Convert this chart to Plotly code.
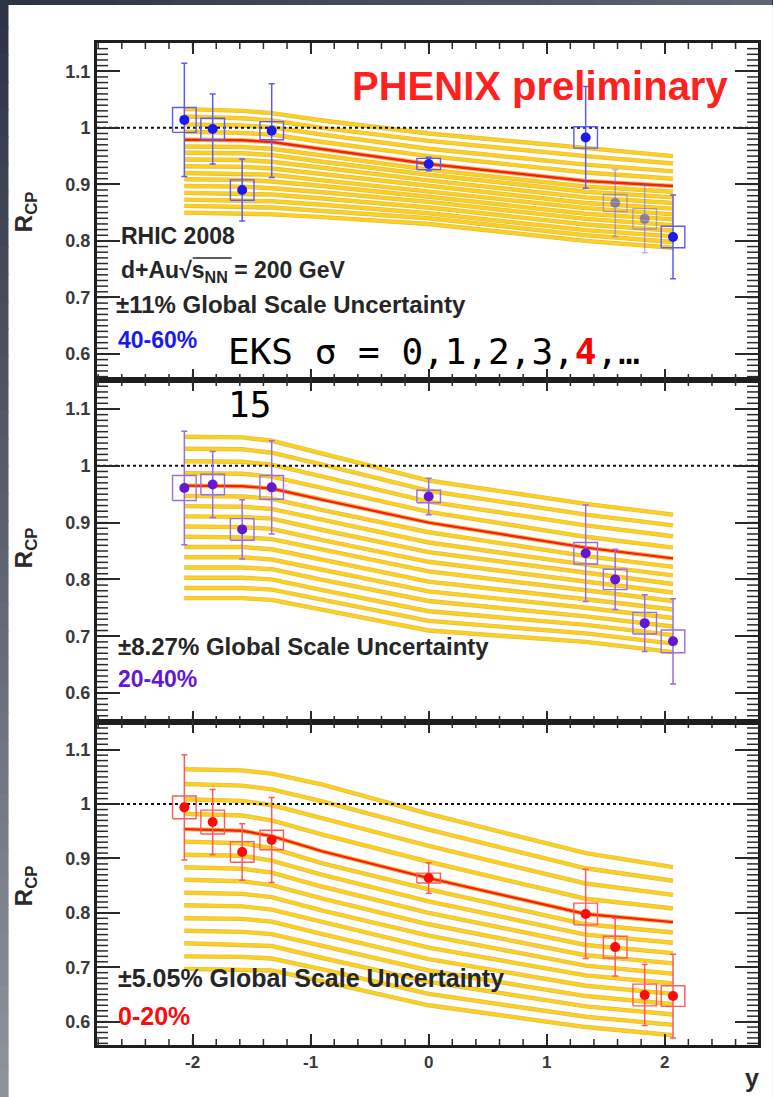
import plotly.graph_objects as go

# ---------------------------------------------------------------- data
rapidity = [-2.07, -1.83, -1.58, -1.33, 0.0, 1.33, 1.58, 1.83, 2.07]

rcp_4060 = [1.014, 0.998, 0.890, 0.995, 0.936, 0.983, 0.867, 0.839, 0.807]
stat_4060 = [0.100, 0.062, 0.055, 0.083, 0.012, 0.090, 0.059, 0.060, 0.074]
sys_4060 = [0.022, 0.019, 0.018, 0.016, 0.010, 0.019, 0.015, 0.018, 0.019]

rcp_2040 = [0.961, 0.967, 0.888, 0.962, 0.946, 0.846, 0.800, 0.723, 0.691]
stat_2040 = [0.100, 0.058, 0.052, 0.082, 0.032, 0.085, 0.053, 0.050, 0.075]
sys_2040 = [0.022, 0.018, 0.019, 0.021, 0.011, 0.019, 0.018, 0.019, 0.020]

rcp_0020 = [0.994, 0.967, 0.912, 0.934, 0.864, 0.798, 0.737, 0.649, 0.647]
stat_0020 = [0.097, 0.060, 0.052, 0.078, 0.028, 0.082, 0.053, 0.056, 0.077]
sys_0020 = [0.021, 0.022, 0.019, 0.018, 0.009, 0.020, 0.020, 0.020, 0.019]

# EKS shadowing curves, sigma = 0 ... 15 (row index), sampled at eks_rapidity
eks_rapidity = [-2.07, -1.58, -1.33, -0.9, 0.0, 1.33, 2.07]
eks_4060 = [
    [1.033, 1.030, 1.026, 1.013, 0.990, 0.965, 0.950],
    [1.020, 1.017, 1.013, 1.000, 0.977, 0.950, 0.937],
    [1.006, 1.004, 1.001, 0.988, 0.963, 0.935, 0.923],
    [0.993, 0.991, 0.988, 0.975, 0.950, 0.921, 0.910],
    [0.979, 0.978, 0.975, 0.962, 0.936, 0.906, 0.897],
    [0.967, 0.966, 0.963, 0.951, 0.926, 0.896, 0.887],
    [0.956, 0.955, 0.952, 0.940, 0.917, 0.887, 0.877],
    [0.944, 0.943, 0.940, 0.929, 0.907, 0.877, 0.867],
    [0.932, 0.931, 0.928, 0.918, 0.897, 0.867, 0.857],
    [0.920, 0.919, 0.917, 0.907, 0.888, 0.858, 0.847],
    [0.909, 0.908, 0.905, 0.897, 0.878, 0.848, 0.838],
    [0.897, 0.896, 0.893, 0.886, 0.869, 0.839, 0.828],
    [0.885, 0.884, 0.882, 0.875, 0.859, 0.829, 0.818],
    [0.873, 0.872, 0.870, 0.864, 0.849, 0.819, 0.808],
    [0.862, 0.861, 0.859, 0.853, 0.840, 0.810, 0.798],
    [0.850, 0.849, 0.847, 0.842, 0.830, 0.800, 0.788],
]
eks_2040 = [
    [1.051, 1.050, 1.044, 1.022, 0.974, 0.933, 0.914],
    [1.030, 1.029, 1.023, 1.002, 0.956, 0.914, 0.895],
    [1.008, 1.007, 1.002, 0.981, 0.937, 0.895, 0.876],
    [0.987, 0.986, 0.981, 0.961, 0.919, 0.875, 0.856],
    [0.965, 0.964, 0.960, 0.940, 0.900, 0.856, 0.837],
    [0.947, 0.946, 0.942, 0.922, 0.883, 0.841, 0.822],
    [0.929, 0.928, 0.924, 0.905, 0.865, 0.826, 0.807],
    [0.911, 0.910, 0.907, 0.887, 0.848, 0.811, 0.792],
    [0.893, 0.892, 0.889, 0.869, 0.831, 0.796, 0.777],
    [0.875, 0.874, 0.871, 0.852, 0.814, 0.781, 0.762],
    [0.857, 0.857, 0.853, 0.834, 0.796, 0.765, 0.747],
    [0.839, 0.839, 0.835, 0.817, 0.779, 0.750, 0.732],
    [0.821, 0.821, 0.818, 0.799, 0.762, 0.735, 0.717],
    [0.803, 0.803, 0.800, 0.781, 0.744, 0.720, 0.702],
    [0.785, 0.785, 0.782, 0.764, 0.727, 0.705, 0.687],
    [0.767, 0.767, 0.764, 0.746, 0.710, 0.690, 0.672],
]
eks_0020 = [
    [1.064, 1.062, 1.056, 1.036, 0.982, 0.910, 0.884],
    [1.037, 1.034, 1.027, 1.005, 0.953, 0.882, 0.859],
    [1.009, 1.006, 0.998, 0.974, 0.923, 0.854, 0.833],
    [0.982, 0.979, 0.970, 0.944, 0.894, 0.826, 0.808],
    [0.954, 0.951, 0.941, 0.913, 0.864, 0.798, 0.783],
    [0.931, 0.928, 0.919, 0.891, 0.843, 0.779, 0.764],
    [0.907, 0.905, 0.896, 0.870, 0.821, 0.760, 0.745],
    [0.884, 0.881, 0.874, 0.848, 0.800, 0.741, 0.726],
    [0.861, 0.858, 0.851, 0.826, 0.779, 0.722, 0.707],
    [0.837, 0.835, 0.829, 0.804, 0.758, 0.703, 0.688],
    [0.814, 0.812, 0.806, 0.783, 0.736, 0.685, 0.670],
    [0.790, 0.789, 0.784, 0.761, 0.715, 0.666, 0.651],
    [0.767, 0.765, 0.761, 0.739, 0.694, 0.647, 0.632],
    [0.744, 0.742, 0.739, 0.717, 0.673, 0.628, 0.613],
    [0.720, 0.719, 0.716, 0.696, 0.651, 0.609, 0.594],
    [0.697, 0.696, 0.694, 0.674, 0.630, 0.590, 0.575],
]
highlight_sigma = 4

x_tickvals = [-2, -1, 0, 1, 2]
x_ticktext = ["-2", "-1", "0", "1", "2"]
y_tickvals = [0.6, 0.7, 0.8, 0.9, 1.0, 1.1]
y_ticktext = ["0.6", "0.7", "0.8", "0.9", "1", "1.1"]

# ---------------------------------------------------------------- geometry
W, H = 773, 1097
L, R, T, B = 97, 760, 43, 1045          # frame of the stacked plot, px
SPLIT1, SPLIT2 = 380, 722               # panel borders, px
BOX_HALF = 0.1                          # half-width of systematic boxes
X_RANGE = [-2.81, 2.79]

# fine tick divisions (0.2 in rapidity, 0.01 in R_CP)
x_fine = [round(-2.8 + 0.2 * k, 2) for k in range(29)]
y_fine = [round(0.56 + 0.01 * k, 2) for k in range(59)]
FINE_LEN_Y, FINE_LEN_X = 11, 6          # px


def fx(px):
    return (px - L) / (R - L)


def fy(py):
    return (B - py) / (B - T)


panels = [
    dict(ax="", y=rcp_4060, stat=stat_4060, sys=sys_4060, eks=eks_4060,
         dom=[fy(SPLIT1), 1.0], rng=[0.554, 1.150],
         mcol="#1a1aee", bcol="#5c5cf2", faded=[6, 7]),
    dict(ax="2", y=rcp_2040, stat=stat_2040, sys=sys_2040, eks=eks_2040,
         dom=[fy(SPLIT2), fy(SPLIT1)], rng=[0.549, 1.151],
         mcol="#6418d2", bcol="#9a6ee0", faded=[]),
    dict(ax="3", y=rcp_0020, stat=stat_0020, sys=sys_0020, eks=eks_0020,
         dom=[0.0, fy(SPLIT2)], rng=[0.557, 1.151],
         mcol="#ff0a0a", bcol="#ff5a5a", faded=[]),
]

fig = go.Figure()

for p in panels:
    xa, ya = "x" + p["ax"], "y" + p["ax"]

    # EKS band of curves
    bx, by = [], []
    for row in p["eks"]:
        bx += eks_rapidity + [None]
        by += row + [None]
    fig.add_trace(go.Scatter(x=bx, y=by, xaxis=xa, yaxis=ya, mode="lines",
                             line=dict(color="#dcbf55", width=4.4),
                             hoverinfo="skip"))
    fig.add_trace(go.Scatter(x=bx, y=by, xaxis=xa, yaxis=ya, mode="lines",
                             line=dict(color="#ffd01a", width=3.0),
                             hoverinfo="skip"))

    # unity reference
    fig.add_trace(go.Scatter(x=X_RANGE, y=[1.0, 1.0], xaxis=xa, yaxis=ya,
                             mode="lines",
                             line=dict(color="#111111", width=2, dash="3px,3px"),
                             hoverinfo="skip"))

    # highlighted EKS curve
    fig.add_trace(go.Scatter(x=eks_rapidity, y=p["eks"][highlight_sigma],
                             xaxis=xa, yaxis=ya, mode="lines",
                             line=dict(color="#ff1a1a", width=2.4),
                             hoverinfo="skip"))

    n = len(rapidity)
    groups = [([i for i in range(n) if i not in p["faded"]], 1.0),
              (p["faded"], 0.45)]
    for idx, alpha in groups:
        if not idx:
            continue
        xs = [rapidity[i] for i in idx]
        ys = [p["y"][i] for i in idx]
        ss = [p["sys"][i] for i in idx]
        es = [p["stat"][i] for i in idx]

        # systematic boxes
        sx, sy = [], []
        for xv, yv, sv in zip(xs, ys, ss):
            sx += [xv - BOX_HALF, xv + BOX_HALF, xv + BOX_HALF, xv - BOX_HALF, xv - BOX_HALF, None]
            sy += [yv - sv, yv - sv, yv + sv, yv + sv, yv - sv, None]
        fig.add_trace(go.Scatter(x=sx, y=sy, xaxis=xa, yaxis=ya, mode="lines",
                                 opacity=alpha,
                                 line=dict(color=p["bcol"], width=1.4),
                                 hoverinfo="skip"))

        # data points with statistical errors
        fig.add_trace(go.Scatter(x=xs, y=ys, xaxis=xa, yaxis=ya,
                                 mode="markers", opacity=alpha,
                                 marker=dict(color=p["mcol"], size=10, symbol="circle"),
                                 error_y=dict(type="data", array=es, visible=True,
                                              color=p["bcol"], thickness=1.5, width=3)))

tick_font = dict(family="Liberation Sans", size=18, color="#3a3a3a", weight="bold")

layout = dict(
    width=W, height=H,
    margin=dict(l=L, r=W - R, t=T, b=H - B, pad=0),
    paper_bgcolor="#2c3345",
    plot_bgcolor="rgba(0,0,0,0)",
    showlegend=False,
    font=dict(family="Liberation Sans", color="#222222"),
)

for i, p in enumerate(panels):
    sfx = p["ax"]
    layout["xaxis" + sfx] = dict(
        anchor="y" + sfx, domain=[0, 1], range=X_RANGE,
        showline=True, linecolor="#1e1e1e", linewidth=3, mirror="allticks",
        showgrid=False, zeroline=False,
        ticks="inside", ticklen=11, tickwidth=2, tickcolor="#2a2a2a",
        tickmode="array", tickvals=x_tickvals, ticktext=x_ticktext,
        showticklabels=(i == 2), tickfont=dict(tick_font, size=17),
    )
    layout["yaxis" + sfx] = dict(
        anchor="x" + sfx, domain=p["dom"], range=p["rng"],
        showline=True, linecolor="#1e1e1e", linewidth=3, mirror="allticks",
        showgrid=False, zeroline=False,
        ticks="inside", ticklen=23, tickwidth=2, tickcolor="#2a2a2a",
        tickmode="array", tickvals=y_tickvals, ticktext=y_ticktext,
        tickfont=tick_font,
    )

fig.update_layout(**layout)

# ---------------------------------------------------------------- shapes
shapes = []


def mix(c0, c1, t):
    a = [int(c0[k:k + 2], 16) for k in (1, 3, 5)]
    b = [int(c1[k:k + 2], 16) for k in (1, 3, 5)]
    return "#%02x%02x%02x" % tuple(round(a[j] + (b[j] - a[j]) * t) for j in range(3))


# slide backdrop
shapes.append(dict(type="rect", xref="paper", yref="paper", layer="below",
                   x0=fx(8), x1=fx(W + 2), y0=fy(5), y1=fy(H + 2),
                   fillcolor="white", line=dict(width=0)))
NSEG = 40
for k in range(NSEG):
    t = k / (NSEG - 1)
    shapes.append(dict(type="rect", xref="paper", yref="paper", layer="below",
                       x0=fx(-1), x1=fx(8),
                       y0=fy(k * H / NSEG - 1), y1=fy((k + 1) * H / NSEG + 1),
                       fillcolor=mix("#2c3345", "#8f929b", t), line=dict(width=0)))
    shapes.append(dict(type="rect", xref="paper", yref="paper", layer="below",
                       x0=fx(k * W / NSEG - 1), x1=fx((k + 1) * W / NSEG + 1),
                       y0=fy(5), y1=fy(-1),
                       fillcolor=mix("#2c3345", "#5f6571", t), line=dict(width=0)))

# fine tick marks on all four sides of each panel
tick_line = dict(color="#2a2a2a", width=1.5)
fy_len = FINE_LEN_Y / (R - L)
for p in panels:
    xa, ya = "x" + p["ax"], "y" + p["ax"]
    panel_px = (p["dom"][1] - p["dom"][0]) * (B - T)
    fx_len = FINE_LEN_X / panel_px
    for v in y_fine:
        if p["rng"][0] < v < p["rng"][1]:
            for a0, a1 in ((0, fy_len), (1 - fy_len, 1)):
                shapes.append(dict(type="line", xref=xa + " domain", yref=ya,
                                   x0=a0, x1=a1, y0=v, y1=v, line=tick_line))
    for v in x_fine:
        if X_RANGE[0] < v < X_RANGE[1]:
            for b0, b1 in ((0, fx_len), (1 - fx_len, 1)):
                shapes.append(dict(type="line", xref=xa, yref=ya + " domain",
                                   x0=v, x1=v, y0=b0, y1=b1, line=tick_line))

# overline of sqrt(s_NN)
shapes.append(dict(type="line", xref="paper", yref="paper",
                   x0=fx(193), x1=fx(232), y0=fy(258), y1=fy(258),
                   line=dict(color="#2a2a2a", width=1.6)))
fig.update_layout(shapes=shapes)

# ---------------------------------------------------------------- text
ann = []


def text(px, py, s, size, color="#262626", anchor="left", family="Liberation Sans", angle=0):
    ann.append(dict(x=fx(px), y=fy(py), xref="paper", yref="paper", text=s,
                    showarrow=False, xanchor=anchor, yanchor="middle",
                    textangle=angle,
                    font=dict(family=family, size=size, color=color)))


text(541, 86, "<b>PHENIX preliminary</b>", 40, color="#ff2020", anchor="center")
text(119, 236, "<b>RHIC 2008</b>", 23)
text(119, 271, "<b>d+Au√s<sub>NN</sub> = 200 GeV</b>", 23)
text(114, 304, "<b>±11% Global Scale Uncertainty</b>", 24)
text(116, 340, "<b>40-60%</b>", 23, color=panels[0]["mcol"])
text(116, 646, "<b>±8.27% Global Scale Uncertainty</b>", 24)
text(116, 679, "<b>20-40%</b>", 23, color=panels[1]["mcol"])
text(116, 978, "<b>±5.05% Global Scale Uncertainty</b>", 25)
text(116, 1016, "<b>0-20%</b>", 25, color=panels[2]["mcol"])

text(226, 351, "EKS σ = 0,1,2,3,<span style='color:#ff0000'><b>4</b></span>,…", 36,
     color="#000000", family="DejaVu Sans Mono")
text(226, 404, "15", 36, color="#000000", family="DejaVu Sans Mono")

for yc in (212, 548, 886):
    text(25, yc, "<b>R<sub>CP</sub></b>", 24, color="#2a2a2a", anchor="center", angle=-90)
text(754, 1078, "<b>y</b>", 25, color="#2a2a2a", anchor="center")

fig.update_layout(annotations=ann)

fig.write_html("out.html")
